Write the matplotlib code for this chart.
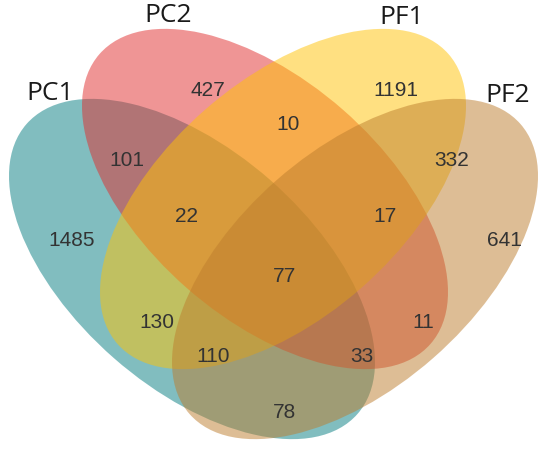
import matplotlib
matplotlib.use("Agg")
import matplotlib.pyplot as plt
from matplotlib.patches import Ellipse

# ---- data ----
set_names = ["PC1", "PC2", "PF1", "PF2"]
# region keys: which sets the region belongs to
region_keys = ["PC2", "PF1", "PC2&PF1", "PC1&PC2", "PF1&PF2", "PC1",
               "PC1&PC2&PF1", "PC2&PF1&PF2", "PF2", "ALL",
               "PC1&PF1", "PC2&PF2", "PC1&PF1&PF2", "PC1&PC2&PF2", "PC1&PF2"]
region_counts = [427, 1191, 10, 101, 332, 1485, 22, 17, 641, 77, 130, 11, 110, 33, 78]

# ---- layout (pixel coordinates, y downward) ----
W, H = 550, 449
ellipse_layout = {
    "PC1": dict(center=(192, 269), angle=-41.2, color=(5/255, 125/255, 129/255)),
    "PC2": dict(center=(265, 199), angle=-41.2, color=(225/255, 45/255, 45/255)),
    "PF1": dict(center=(283, 199), angle=41.2, color=(255/255, 195/255, 5/255)),
    "PF2": dict(center=(355, 269), angle=41.2, color=(189/255, 125/255, 45/255)),
}
ell_w, ell_h = 440, 237
label_pos = {"PC1": (50, 93), "PC2": (168, 16), "PF1": (402, 17), "PF2": (508, 95)}
region_pos = [(208, 90), (396, 90), (288, 125), (127, 160), (452, 160), (72, 240),
              (187, 217), (385, 217), (504, 240), (285, 277),
              (157, 322), (423, 322), (213, 356), (362, 356), (285, 413)]

fig = plt.figure(figsize=(W / 100, H / 100), dpi=100)
ax = fig.add_axes([0, 0, 1, 1])
ax.set_xlim(0, W)
ax.set_ylim(0, H)
ax.axis("off")

for name in set_names:
    p = ellipse_layout[name]
    cx, cy = p["center"]
    ax.add_patch(Ellipse((cx, H - cy), ell_w, ell_h, angle=p["angle"],
                         facecolor=p["color"], edgecolor="none", alpha=0.5))

for name in set_names:
    x, y = label_pos[name]
    ax.text(x, H - y, name, ha="center", va="center", fontsize=19,
            family="Open Sans", color="#1a1a1a")

for key, cnt, (x, y) in zip(region_keys, region_counts, region_pos):
    ax.text(x, H - y, str(cnt), ha="center", va="center", fontsize=15,
            family="Liberation Sans", color="#333333")

fig.savefig("out.png", dpi=100)
